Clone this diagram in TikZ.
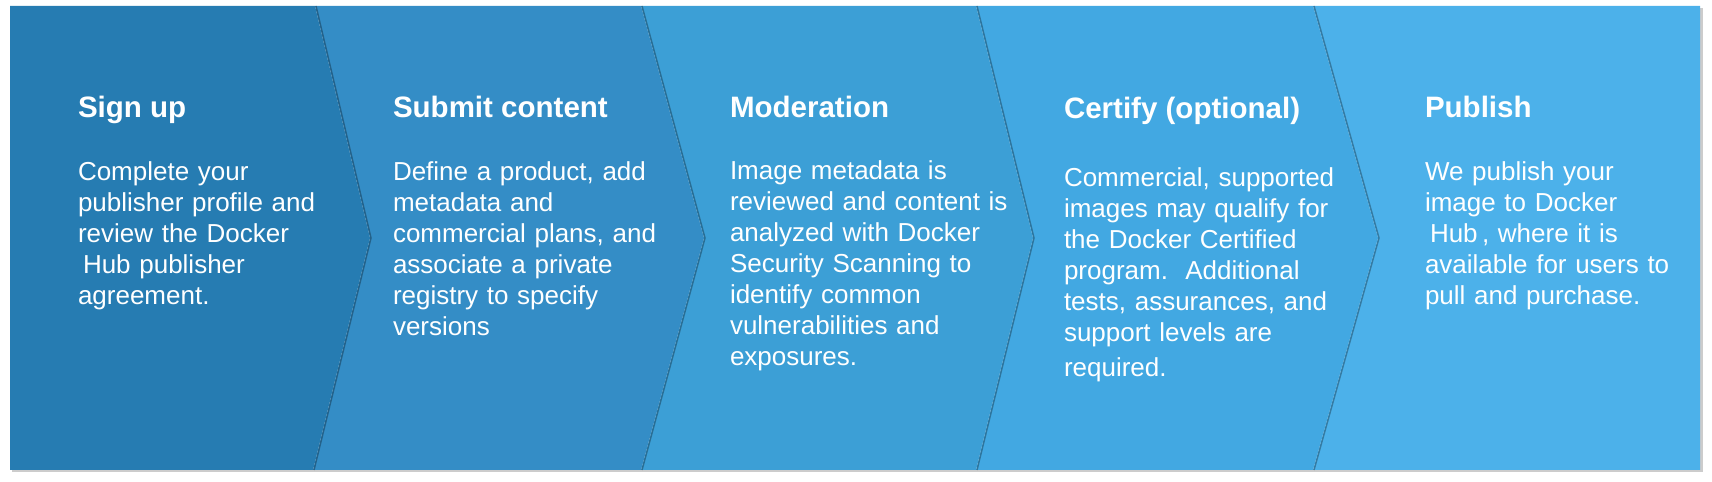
\documentclass[tikz,border=0pt]{standalone}
\usepackage{fontspec}
\setmainfont{Liberation Sans}
\usetikzlibrary{shadows,positioning}
\definecolor{stepA}{RGB}{38,124,178}
\definecolor{stepB}{RGB}{52,141,198}
\definecolor{stepC}{RGB}{60,159,214}
\definecolor{stepD}{RGB}{66,168,226}
\definecolor{stepE}{RGB}{76,177,234}
\tikzset{
  every node/.style={
    text=white,
    inner sep=0pt,
    outer sep=0pt
  },
  steptitle/.style={
    font=\fontsize{16.8}{20}\selectfont\bfseries,
    anchor=base west
  },
  stepbody/.style={
    font=\fontsize{14.8}{17.6}\selectfont,
    anchor=base west,
    text width=5.8cm,
    align=left
  },
  chevron edge/.style={
    draw=black,
    opacity=0.3,
    line width=0.03cm
  }
}

\begin{document}
\begin{tikzpicture}[x=0.02cm,y=-0.02cm]
  \useasboundingbox (0,0) rectangle (1712,482);
  % outer frame with shadow
  \fill[white, drop shadow={shadow xshift=0.05cm, shadow yshift=-0.05cm, opacity=0.4}]
    (10,6) rectangle (1700,470);
  % chevrons
  \fill[stepE] (1313,6) -- (1700,6) -- (1700,470) -- (1313,470) -- (1378,238) -- cycle;
  \fill[stepD] (976,6) -- (1313,6) -- (1378,238) -- (1313,470) -- (976,470) -- (1033,238) -- cycle;
  \fill[stepC] (641,6) -- (976,6) -- (1033,238) -- (976,470) -- (641,470) -- (704,238) -- cycle;
  \fill[stepB] (315,6) -- (641,6) -- (704,238) -- (641,470) -- (313,470) -- (370,238) -- cycle;
  \fill[stepA] (10,6) -- (315,6) -- (370,238) -- (313,470) -- (10,470) -- cycle;
  \draw[chevron edge] (316,6) -- (371,238) -- (314,470);
  \draw[chevron edge] (642,6) -- (705,238) -- (642,470);
  \draw[chevron edge] (977,6) -- (1034,238) -- (977,470);
  \draw[chevron edge] (1314,6) -- (1379,238) -- (1314,470);

  % step texts
  \node[steptitle] (signup) at (78,118) {Sign up};
  \node[stepbody] (signuptext) at (78,181) {Complete your\\publisher profile and\\review the Docker\\\hspace{0.1cm}Hub publisher\\agreement.};

  \node[steptitle] (submit) at (393,118) {Submit content};
  \node[stepbody] (submittext) at (393,181) {Define a product, add\\metadata and\\commercial plans, and\\associate a private\\registry to specify\\versions};

  \node[steptitle] (moderation) at (730,118) {Moderation};
  \node[stepbody] (moderationtext) at (730,180) {Image metadata is\\reviewed and content is\\analyzed with Docker\\Security Scanning to\\identify common\\vulnerabilities and\\exposures.};

  \node[steptitle] (certify) at (1064,119) {Certify (optional)};
  \node[stepbody] (certifytext) at (1064,187) {Commercial, supported\\images may qualify for\\the Docker Certified\\program.\ \ Additional\\tests, assurances, and\\support levels are\\[0.07cm]required.};

  \node[steptitle] (publish) at (1425,118) {Publish};
  \node[stepbody, text width=5.2cm] (publishtext) at (1425,181) {We publish your\\image to Docker\\\hspace{0.1cm}Hub\,, where it is\\available for users to\\pull and purchase.};
\end{tikzpicture}
\end{document}
